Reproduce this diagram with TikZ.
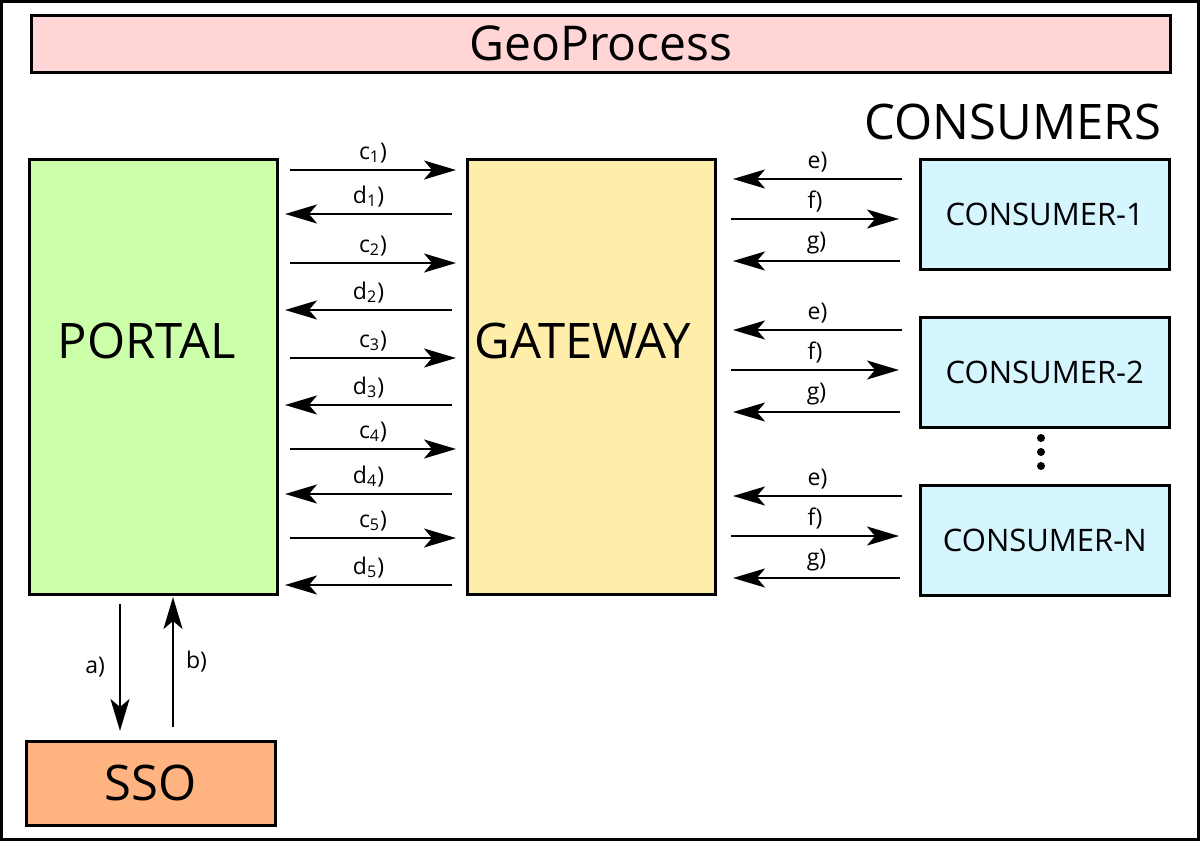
\documentclass[tikz,border=0pt]{standalone}
\usepackage{fontspec}
\setmainfont{Open Sans}
\usetikzlibrary{arrows.meta,positioning}

\begin{document}
\begin{tikzpicture}
		[x=0.5pt,y=-0.5pt,
		box/.style={draw,line width=1.3pt,inner sep=0pt,anchor=north west},
		big/.style={font=\fontsize{24.5}{28}\selectfont},
		flow/.style={line width=1pt,-{Stealth[length=16pt,width=9.5pt,inset=4pt]}},
		lbl/.style={font=\fontsize{11.5}{13}\selectfont,inner sep=1pt}]
		\useasboundingbox (0,0) rectangle (1200,841);
		\draw[line width=1.5pt] (1.5,1.5) rectangle (1198.5,839.5);
		
		\node[box,fill={rgb,255:red,255;green,213;blue,213},minimum width=569.5pt,minimum height=28.5pt,font=\fontsize{24}{27}\selectfont] (geo) at (30,14) {GeoProcess};
		\node[big] (cons) at (1013,122) {CONSUMERS};
		
		\node[box,fill={rgb,255:red,204;green,255;blue,170},minimum width=124pt,minimum height=217.5pt] (portal) at (28,158) {};
		\node[big] at (147,341) {PORTAL};
		\node[box,fill={rgb,255:red,255;green,238;blue,170},minimum width=124pt,minimum height=217.5pt] (gateway) at (466,158) {};
		\node[big] at (583,341) {GATEWAY};
		\node[box,big,fill={rgb,255:red,255;green,179;blue,128},minimum width=124.5pt,minimum height=42pt] (sso) at (25,740) {SSO};
		
		% consumers
		\foreach \name/\y/\txt in {c1/158/CONSUMER-1,c2/316/CONSUMER-2,cn/484/CONSUMER-N}
		\node[box,fill={rgb,255:red,213;green,246;blue,255},minimum width=124.5pt,minimum height=55pt,font=\fontsize{15.5}{18}\selectfont] (\name) at (919,\y) {\txt};
		\foreach \y in {438,452,466}
		\fill (1041,\y) circle (2pt);
		
		% portal <-> gateway
		\foreach \i/\y in {1/170,2/263,3/358,4/449,5/538}{
			\coordinate (cs\i) at (290,\y);
			\coordinate (ce\i) at (456,\y);
			\draw[flow] (cs\i) -- node[lbl,above=2pt] {c\textsubscript{\i})} (ce\i);
		}
		\foreach \i/\y in {1/214,2/310,3/405,4/494,5/585}{
			\coordinate (ds\i) at (452,\y);
			\coordinate (de\i) at (285,\y);
			\draw[flow] (ds\i) -- node[lbl,above=2pt] {d\textsubscript{\i})} (de\i);
		}
		
		% gateway <-> consumers
		\foreach \k/\y in {1/179,2/330,3/496}{
			\coordinate (es\k) at (902,\y);
			\coordinate (ee\k) at (733,\y);
			\coordinate (fs\k) at (731,\y+40);
			\coordinate (fe\k) at (899,\y+40);
			\coordinate (gs\k) at (900,\y+82);
			\coordinate (ge\k) at (733,\y+82);
			\draw[flow] (es\k) -- node[lbl,above=2pt] {e)} (ee\k);
			\draw[flow] (fs\k) -- node[lbl,above=2pt] {f)} (fe\k);
			\draw[flow] (gs\k) -- node[lbl,above=2pt] {g)} (ge\k);
		}
		
		% portal <-> sso
		\coordinate (as) at (120,604);
		\coordinate (ae) at (120,731);
		\coordinate (bs) at (173,727);
		\coordinate (be) at (173,597);
		\draw[flow] (as) -- node[lbl,left=6pt] {a)} (ae);
		\draw[flow] (bs) -- node[lbl,right=5pt] {b)} (be);
\end{tikzpicture}
\end{document}
